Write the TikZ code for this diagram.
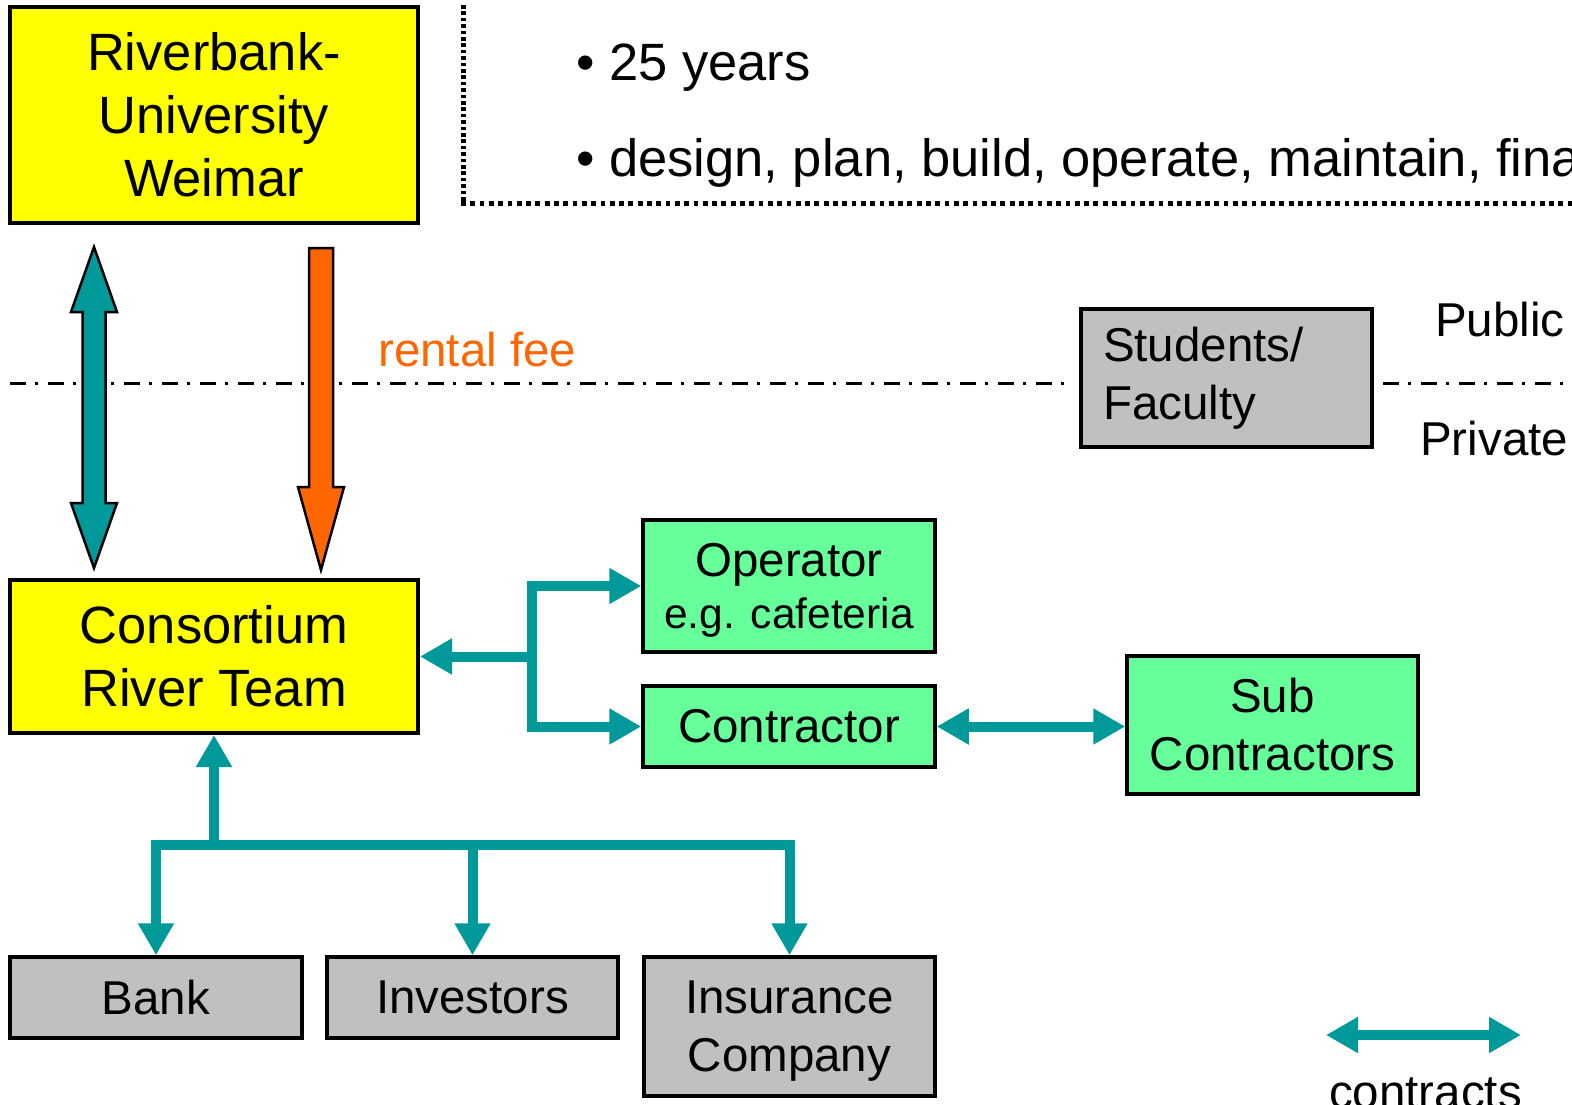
\documentclass[tikz,border=0pt]{standalone}
\usepackage{fontspec}
\setmainfont{Liberation Sans}
\usetikzlibrary{arrows.meta}
\definecolor{tealc}{HTML}{009999}
\definecolor{orangec}{HTML}{FF6600}
\definecolor{yellowc}{HTML}{FFFF00}
\definecolor{greenc}{HTML}{66FF99}
\definecolor{grayc}{HTML}{C0C0C0}
\begin{document}
\begin{tikzpicture}[x=1pt,y=-1pt,
  >={Triangle[length=32pt,width=34pt]},
  box/.style={draw=black, line width=4pt, inner sep=0pt, align=center},
  ybox/.style={box, fill=yellowc, font={\fontsize{52.5}{63}\selectfont}},
  gbox/.style={box, fill=greenc, line width=3.5pt, font={\fontsize{47.5}{58}\selectfont}},
  grbox/.style={box, fill=grayc, line width=3.5pt, font={\fontsize{47.5}{58}\selectfont}},
  cline/.style={draw=tealc, line width=10pt, line join=miter},
  blockarrow/.style={draw=black, line width=2.5pt, line join=miter},
  lbl/.style={inner sep=0pt, anchor=base west, font={\fontsize{47.5}{58}\selectfont}},
  dashdot/.style={line width=3pt, dash pattern=on 16pt off 9pt on 3pt off 10pt},
  dotline/.style={line width=5pt}
]
\useasboundingbox (0,0) rectangle (1572,1104);
\clip (0,0) rectangle (1572,1104);

% public/private divider
\draw[dashdot] (10,383) -- (1068,383);
\draw[dashdot] (1383,383) -- (1572,383);

% dotted frame
\draw[dotline, dash pattern=on 3.6pt off 2.8pt] (463,5) -- (463,201);
\draw[dotline, dash pattern=on 4.8pt off 4.5pt] (461,203) -- (1572,203);

% bullet texts
\node[inner sep=0pt, anchor=base west, font={\fontsize{52.5}{63}\selectfont}] (b1) at (576,80) {•\ 25 years};
\node[inner sep=0pt, anchor=base west, font={\fontsize{52.5}{63}\selectfont}] (b2) at (576,176) {•\ design, plan, build, operate, maintain, finance};

% boxes
\node[ybox, minimum width=408pt, minimum height=216pt] (riv) at (214,115) {Riverbank-\\University\\Weimar};
\node[ybox, minimum width=408pt, minimum height=153pt] (cons) at (214,656.5) {Consortium\\River Team};
\node[gbox, minimum width=292pt, minimum height=132pt, text depth=0pt] (op) at (789,586) {Operator\\[-6pt]{\fontsize{42.5}{50}\selectfont e.g. cafeteria}};
\node[gbox, minimum width=292pt, minimum height=81pt] (ctr) at (789,726.5) {Contractor};
\node[gbox, minimum width=291pt, minimum height=138pt] (sub) at (1272.5,725) {Sub\\Contractors};
\node[grbox, minimum height=138pt, text width=247pt, inner xsep=22pt, align=left] (stud) at (1226.5,378) {Students/\\Faculty};
\node[grbox, minimum width=292pt, minimum height=81pt] (bank) at (156,997.5) {Bank};
\node[grbox, minimum width=291pt, minimum height=81pt] (inv) at (472.5,997.5) {Investors};
\node[grbox, minimum width=291pt, minimum height=139pt, text depth=0pt] (ins) at (789.5,1026.5) {Insurance\\Company};

% labels
\node[lbl] (pub) at (1435,336) {Public};
\node[lbl] (priv) at (1420,455) {Private};
\node[lbl, text=orangec] (fee) at (378,366) {rental fee};
\node[lbl] (leg) at (1329,1108) {contracts};

% block arrows between Riverbank and Consortium
\filldraw[blockarrow, fill=tealc] (94,247) -- (117,312) -- (105.5,312) -- (105.5,503) -- (117,503) -- (94,568) -- (71,503) -- (82.5,503) -- (82.5,312) -- (71,312) -- cycle;
\filldraw[blockarrow, fill=orangec] (309,248) -- (333,248) -- (333,487) -- (344,487) -- (321,570) -- (298,487) -- (309,487) -- cycle;

% contracts: consortium - operator / contractor
\coordinate (br) at (532,656.5);
\draw[cline, <->] (op.west) -- (br |- op.west) -- (br |- ctr.west) -- (ctr.west);
\draw[cline, ->] (br) -- (cons.east);

% contractor - sub contractors
\draw[cline, <->] (ctr.east) -- (ctr.east -| sub.west);

% finance tree
\coordinate (hb) at (0,845);
\draw[cline, <->] (bank.north) -- (bank.north |- hb) -- (ins.north |- hb) -- (ins.north);
\draw[cline, ->] (inv.north |- hb) -- (inv.north);
\draw[cline, ->] (cons.south |- hb) -- (cons.south);

% legend
\coordinate (l1) at (1326,1035);
\coordinate (l2) at (1521,1035);
\draw[cline, <->] (l1) -- (l2);
\end{tikzpicture}
\end{document}
